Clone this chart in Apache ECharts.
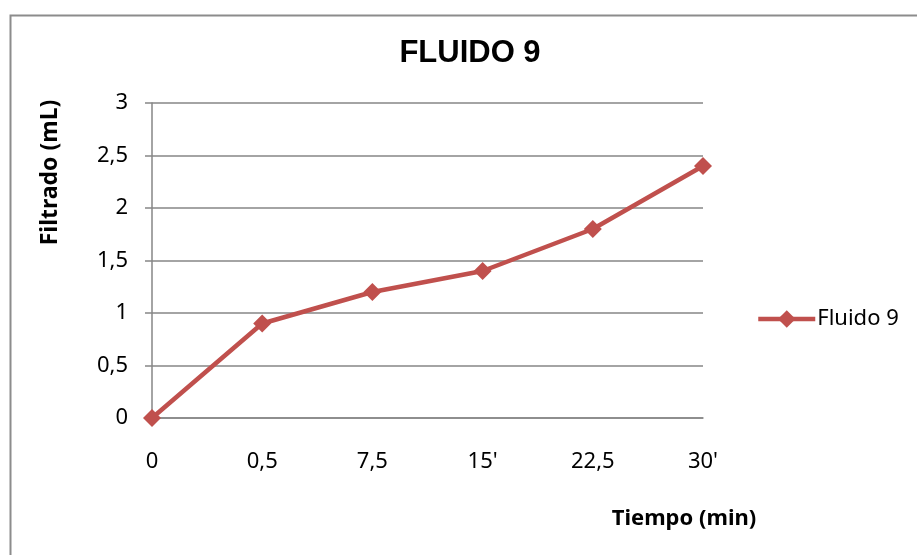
<!DOCTYPE html>
<html>
<head>
<meta charset="utf-8">
<script src="https://cdn.jsdelivr.net/npm/echarts@6/dist/echarts.min.js"></script>
<style>html,body{margin:0;padding:0;background:#fff}#c{width:917px;height:555px}</style>
</head>
<body>
<div id="c"></div>
<script>
var categories = ["0", "0,5", "7,5", "15'", "22,5", "30'"];
var fluido9 = [0, 0.9, 1.2, 1.4, 1.8, 2.4];
var yTicks = { min: 0, max: 3, interval: 0.5 };
var seriesName = "Fluido 9";
var titleText = "FLUIDO 9";

var chart = echarts.init(document.getElementById('c'), null, { renderer: 'canvas' });
var fnt = "'Noto Sans', 'Open Sans', sans-serif";
chart.setOption({
  animation: false,
  backgroundColor: '#fff',
  graphic: [{
    type: 'rect', left: 8, top: 13, silent: true, z: -1,
    shape: { width: 1000, height: 700 },
    style: { fill: 'none', stroke: '#8c8c8c', lineWidth: 2 }
  }],
  title: {
    text: titleText, left: 465, top: 33, textAlign: 'center',
    textStyle: { fontFamily: "'Liberation Sans', Arial, sans-serif", fontWeight: 'bold', fontSize: 31, color: '#000' }
  },
  legend: {
    data: [seriesName], left: 751, top: 303, orient: 'vertical',
    itemWidth: 57, itemHeight: 22, itemGap: 4,
    lineStyle: { width: 4.5 },
    textStyle: { fontFamily: fnt, fontSize: 22, color: '#000', padding: [0, 0, 0, -3] }
  },
  grid: { left: 152, right: 214, top: 103, bottom: 137, containLabel: false },
  xAxis: {
    type: 'category', data: categories, boundaryGap: false,
    name: 'Tiempo (min)', nameLocation: 'end', nameGap: 0,
    nameTextStyle: { fontFamily: fnt, fontWeight: 'bold', fontSize: 22, color: '#000', align: 'center', verticalAlign: 'top', padding: [90, 0, 0, -38] },
    axisLine: { show: true, lineStyle: { color: '#868686', width: 1.5 } },
    axisTick: { show: false },
    axisLabel: { margin: 33, fontFamily: fnt, fontSize: 22, color: '#000' },
    splitLine: { show: false }
  },
  yAxis: {
    type: 'value', min: yTicks.min, max: yTicks.max, interval: yTicks.interval,
    name: 'Filtrado (mL)', nameLocation: 'middle', nameGap: 90, nameRotate: 90,
    nameTextStyle: { fontFamily: fnt, fontWeight: 'bold', fontSize: 23, color: '#000', padding: [0, 0, 0, 176] },
    axisLine: { show: true, lineStyle: { color: '#868686', width: 1.5 } },
    axisTick: { show: true, length: 7, lineStyle: { color: '#868686', width: 1.5 } },
    axisLabel: { margin: 24, fontFamily: fnt, fontSize: 22, color: '#000',
      formatter: function (v) { return String(v).replace('.', ','); } },
    splitLine: { show: true, lineStyle: { color: '#868686', width: 1.5 } }
  },
  series: [{
    name: seriesName, type: 'line', data: fluido9,
    symbol: 'diamond', symbolSize: 18,
    lineStyle: { color: '#c0504d', width: 4.5 },
    itemStyle: { color: '#c0504d' }
  }]
});
</script>
</body>
</html>
